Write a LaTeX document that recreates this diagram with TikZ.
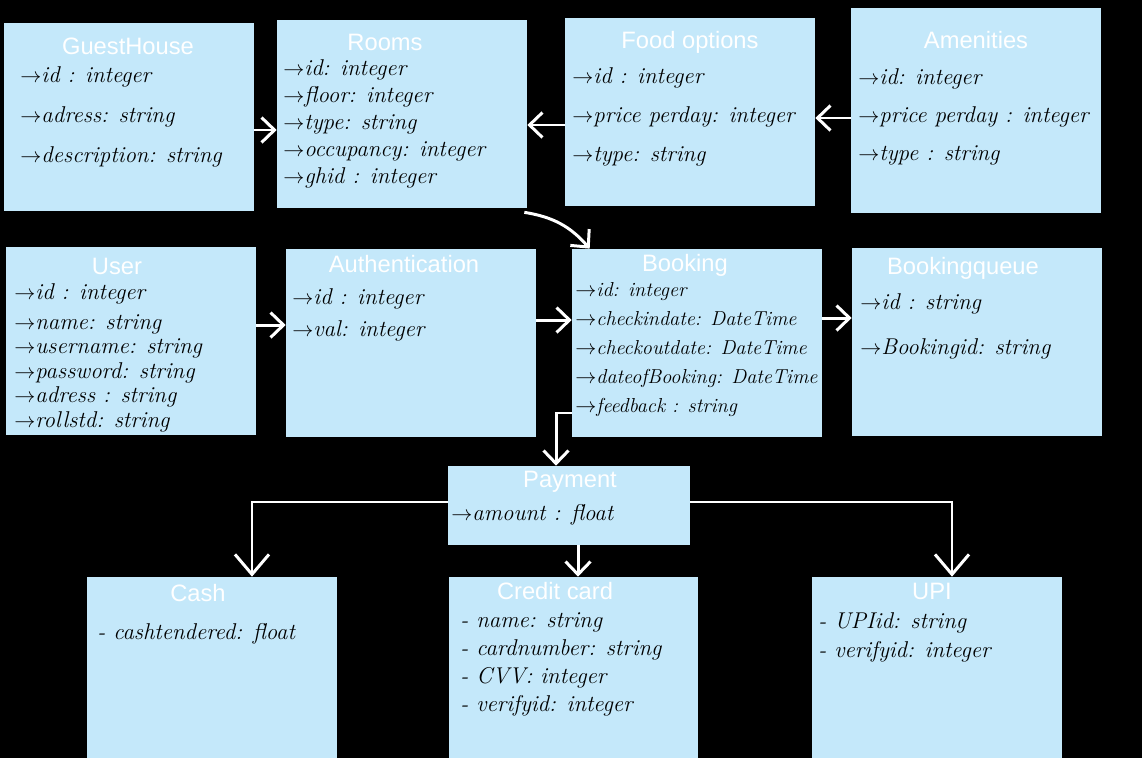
\documentclass[tikz,border=0pt]{standalone}
\usepackage{fontspec}
\setsansfont{Liberation Sans}
\usetikzlibrary{arrows.meta}
\definecolor{boxblue}{RGB}{196,232,250}
\newcommand{\attrto}{$\rightarrow$}
\tikzset{
  entity/.style={fill=boxblue,minimum width=5cm,minimum height=3.76cm,inner sep=0pt},
  heading/.style={text=white,inner sep=0pt,font=\sffamily\fontsize{13.5}{16}\selectfont},
  attrs/.style={anchor=north west,align=left,inner sep=0pt,font=\fontsize{13}{#1}\selectfont\itshape},
  attrs/.default=15pt,
  link/.style={draw=white,line width=1.7pt,-{Straight Barb[length=2.6mm,width=5mm]}},
  branch/.style={draw=white,line width=1.1pt,-{Straight Barb[length=4mm,width=6.8mm,line width=1.7pt]}}
}

\begin{document}
\begin{tikzpicture}[x=0.02cm,y=-0.02cm]
  \useasboundingbox (0,0) rectangle (1142,758);
  \fill[black] (0,0) rectangle (1142,758);
  % top row
  \node[entity] (gh) at (129,117) {};
  \node[entity] (rooms) at (402,114) {};
  \node[entity] (food) at (690,112) {};
  \node[entity,minimum height=4.1cm] (amen) at (976,110.5) {};
  \node[heading] (ghtitle) at (128,46) {GuestHouse};
  \node[heading] (roomstitle) at (385,42) {Rooms};
  \node[heading] (foodtitle) at (690,42) {Food options};
  \node[heading] (amentitle) at (976,40) {Amenities};
  \node[attrs=22.8pt] (ghattr) at (20,66) {\attrto id : integer\\ \attrto adress: string\\ \attrto description: string};
  \node[attrs=15.4pt] (roomsattr) at (283,59) {\attrto id: integer\\ \attrto floor: integer\\ \attrto type: string\\ \attrto occupancy: integer\\ \attrto ghid : integer};
  \node[attrs=22.2pt] (foodattr) at (572,67) {\attrto id : integer\\ \attrto price perday: integer\\ \attrto type: string};
  \node[attrs=21.6pt] (amenattr) at (858,68) {\attrto id: integer\\ \attrto price perday : integer\\ \attrto type : string};
  % middle row
  \node[entity] (user) at (131,341) {};
  \node[entity] (auth) at (411,343) {};
  \node[entity] (booking) at (697,343) {};
  \node[entity] (bqueue) at (977,342) {};
  \node[heading] (usertitle) at (117,266) {User};
  \node[heading] (authtitle) at (404,264) {Authentication};
  \node[heading] (bookingtitle) at (685,265) {Booking};
  \node[heading] (bqueuetitle) at (963,268) {Bookingqueue};
  \node[attrs=14pt] (userattr) at (14,283) {\attrto id : integer\\[3pt] \attrto name: string\\ \attrto username: string\\ \attrto password: string\\ \attrto adress : string\\ \attrto rollstd: string};
  \node[attrs=18.2pt] (authattr) at (292,288) {\attrto id : integer\\ \attrto val: integer};
  \node[attrs=16.5pt,font=\fontsize{11.5}{16.5pt}\selectfont\itshape] (bookingattr) at (575,282) {\attrto id: integer\\ \attrto checkindate: DateTime\\ \attrto checkoutdate: DateTime\\ \attrto dateofBooking: DateTime\\ \attrto feedback : string};
  \node[attrs=26pt] (bqueueattr) at (860,293) {\attrto id : string\\ \attrto Bookingid: string};
  % payment and its kinds
  \node[entity,minimum width=4.84cm,minimum height=1.58cm] (payment) at (569,505.5) {};
  \node[entity,minimum height=3.62cm] (cash) at (212,667.5) {};
  \node[entity,minimum width=4.98cm,minimum height=3.62cm] (credit) at (573.5,667.5) {};
  \node[entity,minimum height=3.62cm] (upi) at (937,667.5) {};
  \node[heading] (paymenttitle) at (570,482) {Payment};
  \node[heading] (cashtitle) at (198,593) {Cash};
  \node[heading] (credittitle) at (555,591) {Credit card};
  \node[heading] (upititle) at (932,591) {UPI};
  \node[attrs] (paymentattr) at (451,504) {\attrto amount : float};
  \node[attrs] (cashattr) at (97,623) {- cashtendered: float};
  \node[attrs=16pt] (creditattr) at (460,612) {- name: string\\ - cardnumber: string\\ - CVV: integer\\ - verifyid: integer};
  \node[attrs=16.5pt] (upiattr) at (818,612) {- UPIid: string\\ - verifyid: integer};
  % connectors
  \draw[link] ([yshift=-0.26cm]gh.east) -- ([yshift=-0.26cm]gh.east -| rooms.west);
  \draw[link] ([yshift=-0.26cm]food.west) -- ([yshift=-0.26cm]food.west -| rooms.east);
  \draw[link] ([yshift=-0.15cm]amen.west) -- ([yshift=-0.15cm]amen.west -| food.east);
  \draw[link] ([xshift=-0.06cm,yshift=-0.08cm]rooms.south east) to[bend left=20] ([xshift=0.36cm]booking.north west);
  \draw[link] ([yshift=0.32cm]user.east) -- ([yshift=0.32cm]user.east -| auth.west);
  \draw[link] ([yshift=0.46cm]auth.east) -- ([yshift=0.46cm]auth.east -| booking.west);
  \draw[link] ([yshift=0.5cm]booking.east) -- ([yshift=0.5cm]booking.east -| bqueue.west);
  \draw[link] ([yshift=-1.4cm]booking.west) -| ([xshift=-0.26cm]payment.north);
  \draw[link] ([xshift=0.18cm]payment.south) -- ([xshift=0.18cm]payment.south |- credit.north);
  \draw[branch] ([yshift=0.07cm]payment.west) -| ([xshift=0.8cm]cash.north);
  \draw[branch] ([yshift=0.07cm]payment.east) -| ([xshift=0.3cm]upi.north);
\end{tikzpicture}
\end{document}
